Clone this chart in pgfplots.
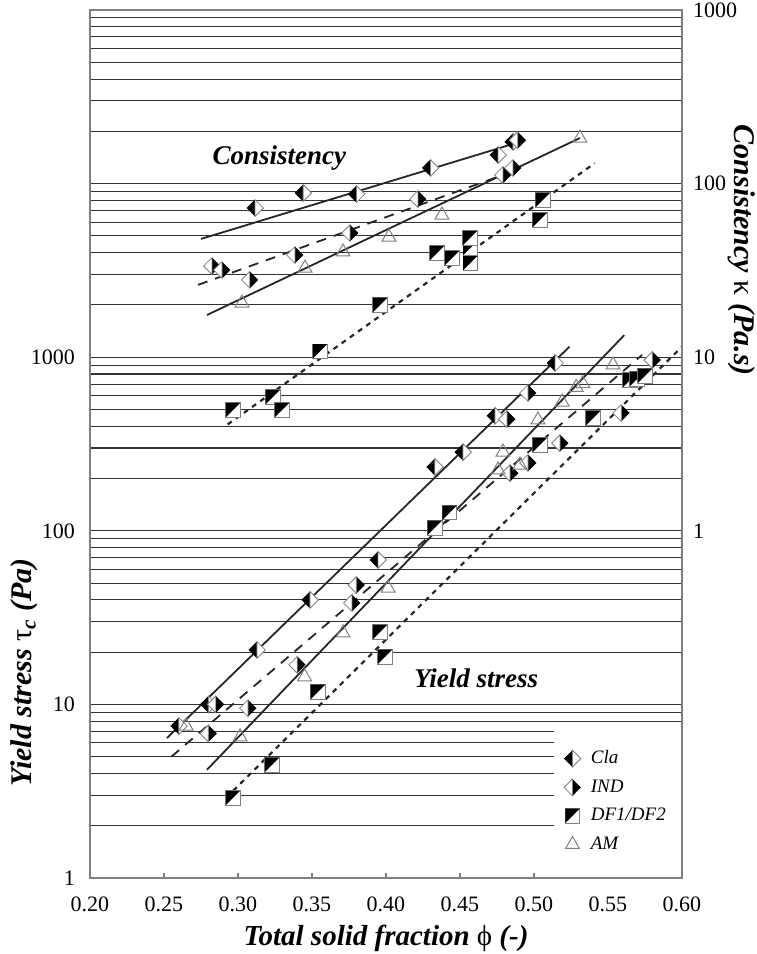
\documentclass[border=0pt]{standalone}
\usepackage{pgfplots}
\pgfplotsset{compat=1.18}
\usepackage{fontspec}
\setmainfont{Liberation Serif}

% half black / half white diamonds, split square
\pgfdeclareplotmark{cla}{%
  \begin{pgfscope}
  \pgfsetfillcolor{black}%
  \pgfpathmoveto{\pgfqpoint{0pt}{\pgfplotmarksize}}%
  \pgfpathlineto{\pgfqpoint{-\pgfplotmarksize}{0pt}}%
  \pgfpathlineto{\pgfqpoint{0pt}{-\pgfplotmarksize}}%
  \pgfpathclose
  \pgfusepathqfill
  \pgfsetfillcolor{white}\pgfsetstrokecolor{gray}%
  \pgfpathmoveto{\pgfqpoint{0pt}{\pgfplotmarksize}}%
  \pgfpathlineto{\pgfqpoint{\pgfplotmarksize}{0pt}}%
  \pgfpathlineto{\pgfqpoint{0pt}{-\pgfplotmarksize}}%
  \pgfpathclose
  \pgfusepathqfillstroke
  \end{pgfscope}}
\pgfdeclareplotmark{ind}{%
  \begin{pgfscope}
  \pgfsetfillcolor{black}%
  \pgfpathmoveto{\pgfqpoint{0pt}{\pgfplotmarksize}}%
  \pgfpathlineto{\pgfqpoint{\pgfplotmarksize}{0pt}}%
  \pgfpathlineto{\pgfqpoint{0pt}{-\pgfplotmarksize}}%
  \pgfpathclose
  \pgfusepathqfill
  \pgfsetfillcolor{white}\pgfsetstrokecolor{gray}%
  \pgfpathmoveto{\pgfqpoint{0pt}{\pgfplotmarksize}}%
  \pgfpathlineto{\pgfqpoint{-\pgfplotmarksize}{0pt}}%
  \pgfpathlineto{\pgfqpoint{0pt}{-\pgfplotmarksize}}%
  \pgfpathclose
  \pgfusepathqfillstroke
  \end{pgfscope}}
\pgfdeclareplotmark{df}{%
  \begin{pgfscope}
  \pgfsetfillcolor{white}\pgfsetstrokecolor{gray}%
  \pgfpathrectanglecorners{\pgfqpoint{-\pgfplotmarksize}{-\pgfplotmarksize}}{\pgfqpoint{\pgfplotmarksize}{\pgfplotmarksize}}%
  \pgfusepathqfillstroke
  \pgfsetfillcolor{black}%
  \pgfpathmoveto{\pgfqpoint{-\pgfplotmarksize}{-\pgfplotmarksize}}%
  \pgfpathlineto{\pgfqpoint{-\pgfplotmarksize}{\pgfplotmarksize}}%
  \pgfpathlineto{\pgfqpoint{\pgfplotmarksize}{\pgfplotmarksize}}%
  \pgfpathclose
  \pgfusepathqfill
  \end{pgfscope}}

\pgfplotsset{
  mcla/.style={only marks, mark=cla, mark size=4.2pt, mark options={line width=0.4pt}},
  mind/.style={only marks, mark=ind, mark size=4.2pt, mark options={line width=0.4pt}},
  mdf/.style={only marks, mark=df, mark size=3.6pt, mark options={line width=0.5pt}},
  mam/.style={only marks, mark=triangle, mark size=4pt, mark options={fill=white, draw=gray, line width=0.5pt}},
  fitline/.style={black!85, line width=0.9pt, no marks},
}

\begin{document}
\begin{tikzpicture}
\useasboundingbox (-45pt,-38pt) rectangle (333pt,439pt);
\begin{axis}[
  scale only axis, width=296pt, height=434pt,
  xmin=0.2, xmax=0.6, ymode=log,
  axis line style={gray, line width=0.7pt},
  tick label style={font=\fontsize{11}{12}\selectfont},
  label style={font=\fontsize{15}{17}\selectfont\bfseries\itshape},
  at={(0,0)}, anchor=south west,
  ymin=1, ymax=100000,
  xtick={0.2,0.25,0.3,0.35,0.4,0.45,0.5,0.55,0.6},
  xticklabels={0.20,0.25,0.30,0.35,0.40,0.45,0.50,0.55,0.60},
  xtick pos=bottom, tick align=inside,
  major tick length=2.5pt, minor tick length=0pt,
  xtick style={gray, line width=0.6pt},
  ytick={1,10,100,1000,10000,100000},
  yticklabels={1,10,100,1000,,},
  ytick style={draw=none},
  xticklabel style={yshift=-6pt},
  yticklabel style={xshift=-4pt},
  ymajorgrids, yminorgrids,
  major grid style={black!80, line width=0.55pt},
  minor grid style={black!80, line width=0.55pt},
  xlabel={Total solid fraction {\mdseries\upshape ϕ} (-)},
  xlabel style={at={(rel axis cs:0.5,0)}, anchor=center, yshift=-30pt, font=\fontsize{14.5}{17}\selectfont\bfseries\itshape},
  ylabel={Yield stress {\mdseries\upshape τ}\textsubscript{c} (Pa)},
  ylabel style={at={([xshift=-33pt]rel axis cs:0,0.237)}, anchor=center},
  legend style={at={(rel axis cs:0.79,0.02)}, anchor=south west, draw=none, fill=none,
    font=\fontsize{9.5}{11}\selectfont\itshape, row sep=2.5pt},
  legend cell align=left,
]
% box of the legend hides the grid lines there
\fill[white] ([yshift=0.4pt]rel axis cs:0.784,0) rectangle ([xshift=-0.4pt]rel axis cs:1,0.174);
\addlegendimage{mcla}\addlegendentry{\hspace{3pt}Cla}
\addlegendimage{mind}\addlegendentry{\hspace{3pt}IND}
\addlegendimage{mdf}\addlegendentry{\hspace{3pt}DF1/DF2}
\addlegendimage{mam}\addlegendentry{\hspace{3pt}AM}

% yield stress fits
\addplot[fitline] coordinates {(0.252,6.4) (0.524,1150)};
\addplot[fitline, dash pattern=on 5pt off 4pt] coordinates {(0.255,5.0) (0.573,1030)};
\addplot[fitline] coordinates {(0.279,4.2) (0.561,1340)};
\addplot[fitline, line width=1.1pt, dash pattern=on 2.5pt off 2.5pt] coordinates {(0.292,2.9) (0.600,1150)};

% yield stress data
\addplot[mcla] coordinates {(0.260,7.5) (0.280,10) (0.3128,20.6) (0.3486,40) (0.3946,68)
  (0.433,233) (0.452,284) (0.4736,460) (0.5142,926)};
\addplot[mind] coordinates {(0.280,6.8) (0.285,10) (0.3068,9.5) (0.340,16.9) (0.377,38.4)
  (0.380,48.7) (0.4818,440) (0.4838,215) (0.496,246) (0.496,622) (0.5176,320) (0.559,477) (0.580,964)};
\addplot[mdf] coordinates {(0.2966,2.89) (0.323,4.48) (0.354,11.8) (0.396,26.1) (0.3993,18.8)
  (0.433,104) (0.443,127) (0.504,312) (0.540,446) (0.5649,739) (0.5697,750) (0.575,780)};
\addplot[mam] coordinates {(0.265,7.5) (0.3014,6.5) (0.345,14.4) (0.371,25.8) (0.4014,46.8)
  (0.4757,224) (0.479,284) (0.4905,239) (0.5027,435) (0.519,552) (0.5285,670) (0.533,705) (0.5534,902)};

\node[font=\fontsize{13.5}{15}\selectfont\bfseries\itshape] at (axis cs:0.328,14000) {Consistency};
\node[font=\fontsize{13.5}{15}\selectfont\bfseries\itshape] at (axis cs:0.461,14.2) {Yield stress};
\end{axis}

\begin{axis}[
  scale only axis, width=296pt, height=434pt,
  xmin=0.2, xmax=0.6, ymode=log,
  axis line style={gray, line width=0.7pt},
  tick label style={font=\fontsize{11}{12}\selectfont},
  label style={font=\fontsize{15}{17}\selectfont\bfseries\itshape},
  at={(0,0)}, anchor=south west,
  ymin=0.01, ymax=1000,
  axis x line=none, axis y line*=right,
  ytick={1,10,100,1000}, yticklabels={1,10,100,1000},
  ytick style={draw=none}, minor tick length=0pt,
  yticklabel style={xshift=2pt},
  ylabel={Consistency {\mdseries\upshape κ} (Pa.s)},
  ylabel style={at={([xshift=30pt]rel axis cs:1,0.723)}, anchor=center, rotate=180},
]
% consistency fits
\addplot[fitline] coordinates {(0.275,48) (0.4905,174)};
\addplot[fitline, dash pattern=on 5pt off 4pt] coordinates {(0.273,26.1) (0.485,117)};
\addplot[fitline] coordinates {(0.279,17.5) (0.531,183)};
\addplot[fitline, line width=1.1pt, dash pattern=on 2.5pt off 2.5pt] coordinates {(0.293,4.1) (0.541,131)};

% consistency data
\addplot[mcla] coordinates {(0.3115,72.3) (0.344,88.3) (0.380,87) (0.430,123) (0.4757,146) (0.4858,174)};
\addplot[mind] coordinates {(0.2824,33.5) (0.2892,31.8) (0.308,27.9) (0.3385,38.8) (0.3757,51.9)
  (0.4216,81.5) (0.479,112) (0.4858,123) (0.489,178)};
\addplot[mdf] coordinates {(0.2966,4.96) (0.3236,5.9) (0.3297,4.96) (0.3554,10.8) (0.396,20)
  (0.4345,39.8) (0.4446,37.2) (0.457,34.9) (0.457,42.6) (0.4568,48.6) (0.504,61.7) (0.506,80.5)};
\addplot[mam] coordinates {(0.3027,20.5) (0.3453,32.6) (0.371,40.4) (0.402,49.2) (0.4378,65.9) (0.531,183)};
\end{axis}
\end{tikzpicture}
\end{document}
